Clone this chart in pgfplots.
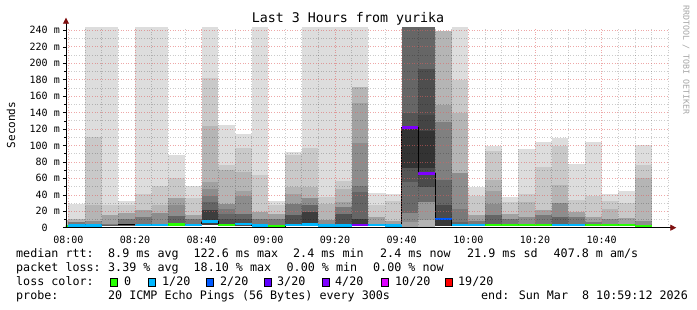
\documentclass[border=0pt]{standalone}
\usepackage{pgfplots}
\pgfplotsset{compat=1.18}
\usepackage{fontspec}
\setmainfont{DejaVu Sans Mono}
\usetikzlibrary{arrows.meta}
% smoke shades
\definecolor{sA}{HTML}{DDDDDD}\definecolor{sB}{HTML}{C9C9C9}\definecolor{sC}{HTML}{B5B5B5}
\definecolor{sD}{HTML}{A1A1A1}\definecolor{sE}{HTML}{8D8D8D}\definecolor{sF}{HTML}{797979}
\definecolor{sG}{HTML}{656565}\definecolor{sH}{HTML}{515151}\definecolor{sI}{HTML}{3D3D3D}
\definecolor{gA0}{HTML}{A0A0A0}\definecolor{g8A}{HTML}{8A8A8A}\definecolor{g6A}{HTML}{6A6A6A}
\definecolor{g55}{HTML}{555555}\definecolor{g33}{HTML}{333333}\definecolor{g66}{HTML}{666666}
\definecolor{gB5}{HTML}{B5B5B5}\definecolor{g99}{HTML}{999999}\definecolor{g4A}{HTML}{4A4A4A}
\definecolor{g44}{HTML}{444444}\definecolor{g4E}{HTML}{4E4E4E}\definecolor{g3A}{HTML}{3A3A3A}
\definecolor{g80}{HTML}{808080}\definecolor{gmed}{HTML}{606060}
% loss colours
\definecolor{cA}{HTML}{26FF00}\definecolor{cB}{HTML}{00B8FF}\definecolor{cC}{HTML}{0059FF}
\definecolor{cD}{HTML}{5E00FF}\definecolor{cE}{HTML}{7E00FF}\definecolor{cF}{HTML}{DD00FF}
\definecolor{cG}{HTML}{FF0000}
\definecolor{arr}{HTML}{7F1010}
\definecolor{mgrid}{HTML}{E06060}
\newcommand{\band}[4]{\pgfmathsetmacro\xa{5*(#1)}\pgfmathsetmacro\xb{5*(#1)+5}%
  \addplot[fill=#4,draw=none,forget plot] coordinates {(\xa,#2) (\xb,#2) (\xb,#3) (\xa,#3)} -- cycle;}
\newcommand{\med}[3]{\pgfmathsetmacro\xa{5*(#1)}\pgfmathsetmacro\xb{5*(#1)+5}%
  \addplot[#3,line width=2.5pt,forget plot] coordinates {(\xa,#2) (\xb,#2)};}
\begin{document}
\begin{tikzpicture}
\useasboundingbox (0pt,0pt) rectangle (697pt,310pt);
\begin{axis}[
  at={(66pt,82.3pt)}, anchor=south west, scale only axis,
  width=602.3pt, height=200pt,
  xmin=-0.7, xmax=180, ymin=0, ymax=243.2,
  axis on top,
  axis lines=left,
  axis line style={line width=0.8pt, black},
  x axis line style={-{Triangle[length=6pt,width=6pt,color=arr]}, shorten >=-8pt},
  y axis line style={-{Triangle[length=6pt,width=6pt,color=arr]}, shorten >=-10pt},
  xtick={0,20,...,160},
  xticklabels={08:00,08:20,08:40,09:00,09:20,09:40,10:00,10:20,10:40},
  minor xtick={5,10,15,25,30,35,45,50,55,65,70,75,85,90,95,105,110,115,125,130,135,145,150,155,165,170,175,180},
  ytick={0,20,...,240},
  yticklabels={0\phantom{\ m},20 m,40 m,60 m,80 m,100 m,120 m,140 m,160 m,180 m,200 m,220 m,240 m},
  minor ytick={10,30,...,230},
  grid=both,
  major grid style={mgrid, opacity=0.55, line width=0.6pt, dash pattern=on 1pt off 1.6pt},
  minor grid style={black, opacity=0.2, line width=0.6pt, dash pattern=on 1pt off 1.6pt},
  tick align=outside, major tick length=3pt, minor tick length=2pt,
  xtick style={draw=none}, ytick style={black, line width=0.5pt},
  tick label style={font=\fontsize{10}{12}\selectfont},
  xticklabel style={anchor=base, yshift=-13pt},
  yticklabel style={anchor=east, inner sep=0pt, xshift=-3pt},
]
% bar -1 (sliver before 08:00)
\band{-1}{1.5}{9}{sC}
% bar 0
\band{0}{11}{29}{sA}\band{0}{7}{11}{sC}\band{0}{2}{7}{sF}
% bar 1
\band{1}{110}{250}{sA}\band{1}{28}{110}{sB}\band{1}{8}{28}{sC}\band{1}{2}{8}{sE}
% bar 2
\band{2}{28}{250}{sA}\band{2}{16}{28}{sB}\band{2}{5}{16}{sD}\band{2}{2}{5}{sF}
% bar 3
\band{3}{28}{32}{sA}\band{3}{18}{28}{sB}\band{3}{11}{18}{sD}\band{3}{2}{11}{sF}
% bar 4
\band{4}{41}{250}{sA}\band{4}{21}{41}{sB}\band{4}{13}{21}{sD}\band{4}{2}{13}{sF}
% bar 5
\band{5}{51}{250}{sA}\band{5}{27}{51}{sB}\band{5}{18}{27}{sC}\band{5}{2}{18}{sE}
% bar 6
\band{6}{61}{88}{sA}\band{6}{36}{61}{sB}\band{6}{28}{36}{sD}\band{6}{14}{28}{sE}\band{6}{2}{14}{sG}
% bar 7
\band{7}{36}{51}{sA}\band{7}{16}{36}{sB}\band{7}{11}{16}{sD}\band{7}{2}{11}{sF}
% bar 8
\band{8}{182}{250}{sA}\band{8}{124}{182}{sB}\band{8}{56}{124}{sC}\band{8}{47}{56}{sD}
\band{8}{39}{47}{sE}\band{8}{31}{39}{sF}\band{8}{21}{31}{sG}\band{8}{3}{21}{sI}
% bar 9
\band{9}{76}{125}{sA}\band{9}{70}{76}{sB}\band{9}{29}{70}{sC}\band{9}{23}{29}{sE}
\band{9}{17}{23}{sF}\band{9}{11}{17}{sG}\band{9}{2}{11}{sH}
% bar 10
\band{10}{97}{114}{sA}\band{10}{68}{97}{sB}\band{10}{45}{68}{sC}\band{10}{39}{45}{sD}
\band{10}{17}{39}{sE}\band{10}{11}{17}{sG}\band{10}{2}{11}{sH}
% bar 11
\band{11}{64}{250}{sA}\band{11}{19}{64}{sB}\band{11}{11}{19}{sD}\band{11}{2}{11}{sF}
% bar 12
\band{12}{28}{33}{sA}\band{12}{17}{28}{sB}\band{12}{11}{17}{sD}\band{12}{2}{11}{sF}
% bar 13
\band{13}{88}{92}{sA}\band{13}{49}{88}{sB}\band{13}{41}{49}{sC}\band{13}{29}{41}{sD}
\band{13}{16}{29}{sF}\band{13}{2}{16}{sH}
% bar 14
\band{14}{97}{250}{sA}\band{14}{49}{97}{sB}\band{14}{36}{49}{sC}\band{14}{28}{36}{sE}
\band{14}{19}{28}{sG}\band{14}{2}{19}{sI}
% bar 15
\band{15}{37}{250}{sA}\band{15}{29}{37}{sB}\band{15}{9}{29}{sC}\band{15}{2}{9}{sE}
% bar 16
\band{16}{57}{250}{sA}\band{16}{47}{57}{sB}\band{16}{31}{47}{sC}\band{16}{25}{31}{sD}
\band{16}{17}{25}{sF}\band{16}{2}{17}{sH}
% bar 17
\band{17}{171}{250}{sA}\band{17}{152}{171}{sC}\band{17}{103}{152}{sD}\band{17}{51}{103}{sE}
\band{17}{43}{51}{sF}\band{17}{11}{43}{sG}\band{17}{2}{11}{sI}
% bar 18
\band{18}{28}{42}{sA}\band{18}{13}{28}{sB}\band{18}{2}{13}{sD}
% bar 19
\band{19}{32}{41}{sA}\band{19}{8}{32}{sB}\band{19}{2}{8}{sD}
% bar 20
\band{20}{1}{7}{gA0}\band{20}{7}{18}{g8A}\band{20}{18}{55}{g6A}\band{20}{55}{72}{g55}
\band{20}{72}{122}{g33}\band{20}{122}{139}{g55}\band{20}{139}{250}{g66}
% bar 21
\band{21}{1}{9}{gB5}\band{21}{9}{31}{g99}\band{21}{31}{49}{g6A}\band{21}{49}{72}{g4A}
\band{21}{72}{118}{g33}\band{21}{118}{137}{g44}\band{21}{137}{193}{g4E}\band{21}{193}{250}{g66}
% bar 22
\band{22}{2}{12}{g3A}\band{22}{12}{27}{g4A}\band{22}{27}{58}{g66}\band{22}{58}{128}{g80}
\band{22}{128}{149}{gA0}\band{22}{149}{239}{gB5}
% bar 23
\band{23}{179}{250}{sA}\band{23}{139}{179}{sB}\band{23}{66}{139}{sC}\band{23}{23}{66}{sE}
\band{23}{7}{23}{sF}\band{23}{2}{7}{sG}
% bar 24
\band{24}{39}{49}{sA}\band{24}{16}{39}{sB}\band{24}{8}{16}{sD}\band{24}{2}{8}{sF}
% bar 25
\band{25}{93}{99}{sA}\band{25}{58}{93}{sB}\band{25}{45}{58}{sC}\band{25}{29}{45}{sD}
\band{25}{16}{29}{sE}\band{25}{2}{16}{sG}
% bar 26
\band{26}{31}{37}{sA}\band{26}{17}{31}{sB}\band{26}{11}{17}{sD}\band{26}{2}{11}{sF}
% bar 27
\band{27}{41}{96}{sA}\band{27}{31}{41}{sB}\band{27}{13}{31}{sC}\band{27}{2}{13}{sE}
% bar 28
\band{28}{74}{104}{sA}\band{28}{21}{74}{sB}\band{28}{15}{21}{sD}\band{28}{2}{15}{sF}
% bar 29
\band{29}{99}{109}{sA}\band{29}{52}{99}{sB}\band{29}{30}{52}{sC}\band{29}{13}{30}{sE}\band{29}{2}{13}{sG}
% bar 30
\band{30}{34}{78}{sA}\band{30}{19}{34}{sB}\band{30}{13}{19}{sD}\band{30}{2}{13}{sF}
% bar 31
\band{31}{39}{104}{sA}\band{31}{13}{39}{sB}\band{31}{7}{13}{sD}\band{31}{2}{7}{sF}
% bar 32
\band{32}{32}{41}{sA}\band{32}{23}{32}{sB}\band{32}{11}{23}{sC}\band{32}{2}{11}{sE}
% bar 33
\band{33}{30}{45}{sA}\band{33}{12}{30}{sB}\band{33}{2}{12}{sD}
% bar 34
\band{34}{76}{101}{sA}\band{34}{60}{76}{sB}\band{34}{8}{60}{sC}\band{34}{2}{8}{sE}
% median line
\addplot[const plot mark left, black, line width=0.8pt, forget plot] coordinates {
 (-5,2) (0,2.5) (5,2.5) (10,3) (15,3.5) (20,3.3) (25,3.5) (30,4) (35,3.5) (40,7.5)
 (45,3.5) (50,4.5) (55,2.5) (60,2) (65,3.5) (70,4) (75,2.5) (80,2.5) (85,3) (90,3.5)
 (95,2.5) (100,122) (105,66) (110,10.5) (115,3) (120,3) (125,3) (130,3) (135,3) (140,3.5)
 (145,3) (150,3) (155,3) (160,3.3) (165,3.3) (170,2) (175,2)};
\med{-1}{2}{cA}
\med{0}{2.5}{cB}\med{1}{2.5}{cB}
\addplot[gmed,line width=1.2pt,forget plot] coordinates {(10,3) (20,3)};
\med{4}{3.3}{cB}\med{5}{3.5}{cB}\med{6}{4}{cA}\med{7}{3.5}{cB}\med{8}{7.5}{cB}
\med{9}{3.5}{cA}\med{10}{4.5}{cB}\med{11}{2.5}{cB}\med{12}{2}{cA}\med{13}{3.5}{cB}
\med{14}{4}{cB}\med{15}{2.5}{cB}\med{16}{2.5}{cB}\med{17}{3}{cE}\med{18}{3.5}{cB}
\med{19}{2.5}{cB}\med{20}{122}{cE}\med{21}{66}{cE}\med{22}{10.5}{cC}\med{23}{3}{cB}
\med{24}{3}{cB}\med{25}{3}{cA}\med{26}{3}{cA}\med{27}{3}{cA}\med{28}{3.5}{cA}
\med{29}{3}{cB}\med{30}{3}{cB}\med{31}{3}{cA}\med{32}{3.3}{cA}\med{33}{3.3}{cA}
\med{34}{2}{cA}
\end{axis}
% title, labels, watermark
\node at (348pt,291pt) {\fontsize{13.3}{15}\selectfont Last 3 Hours from yurika};
\node[rotate=90] at (11pt,185pt) {\fontsize{11}{13}\selectfont Seconds};
\node[rotate=-90,text=black!35] at (686pt,250pt) {\fontsize{8.3}{10}\selectfont RRDTOOL / TOBI OETIKER};
% legend
\begin{scope}[every node/.style={anchor=base west, inner sep=0pt, font=\fontsize{11.7}{13}\selectfont}]
\node at (16pt,52pt) {median rtt:};
\node at (108pt,52pt) {8.9 ms avg};
\node at (193.5pt,52pt) {122.6 ms max};
\node at (293pt,52pt) {2.4 ms min};
\node at (380pt,52pt) {2.4 ms now};
\node at (467pt,52pt) {21.9 ms sd};
\node at (553.5pt,52pt) {407.8 m am/s};
\node at (16pt,38pt) {packet loss:};
\node at (108pt,38pt) {3.39 \% avg};
\node at (193.5pt,38pt) {18.10 \% max};
\node at (286.5pt,38pt) {0.00 \% min};
\node at (373pt,38pt) {0.00 \% now};
\node at (16pt,24pt) {loss color:};
\node at (124pt,24pt) {0};
\node at (162pt,24pt) {1/20};
\node at (220pt,24pt) {2/20};
\node at (277pt,24pt) {3/20};
\node at (335pt,24pt) {4/20};
\node at (395pt,24pt) {10/20};
\node at (458pt,24pt) {19/20};
\node at (16pt,10pt) {probe:};
\node at (108pt,10pt) {20 ICMP Echo Pings (56 Bytes) every 300s};
\node at (481pt,10pt) {end: Sun Mar~~8 10:59:12 2026};
\end{scope}
\begin{scope}[line width=0.8pt]
\filldraw[fill=cA,draw=black] (110pt,23.5pt) rectangle (117.5pt,31.5pt);
\filldraw[fill=cB,draw=black] (148pt,23.5pt) rectangle (155.5pt,31.5pt);
\filldraw[fill=cC,draw=black] (206pt,23.5pt) rectangle (213.5pt,31.5pt);
\filldraw[fill=cD,draw=black] (264pt,23.5pt) rectangle (271.5pt,31.5pt);
\filldraw[fill=cE,draw=black] (322pt,23.5pt) rectangle (329.5pt,31.5pt);
\filldraw[fill=cF,draw=black] (381pt,23.5pt) rectangle (388.5pt,31.5pt);
\filldraw[fill=cG,draw=black] (445pt,23.5pt) rectangle (452.5pt,31.5pt);
\end{scope}
\end{tikzpicture}
\end{document}
